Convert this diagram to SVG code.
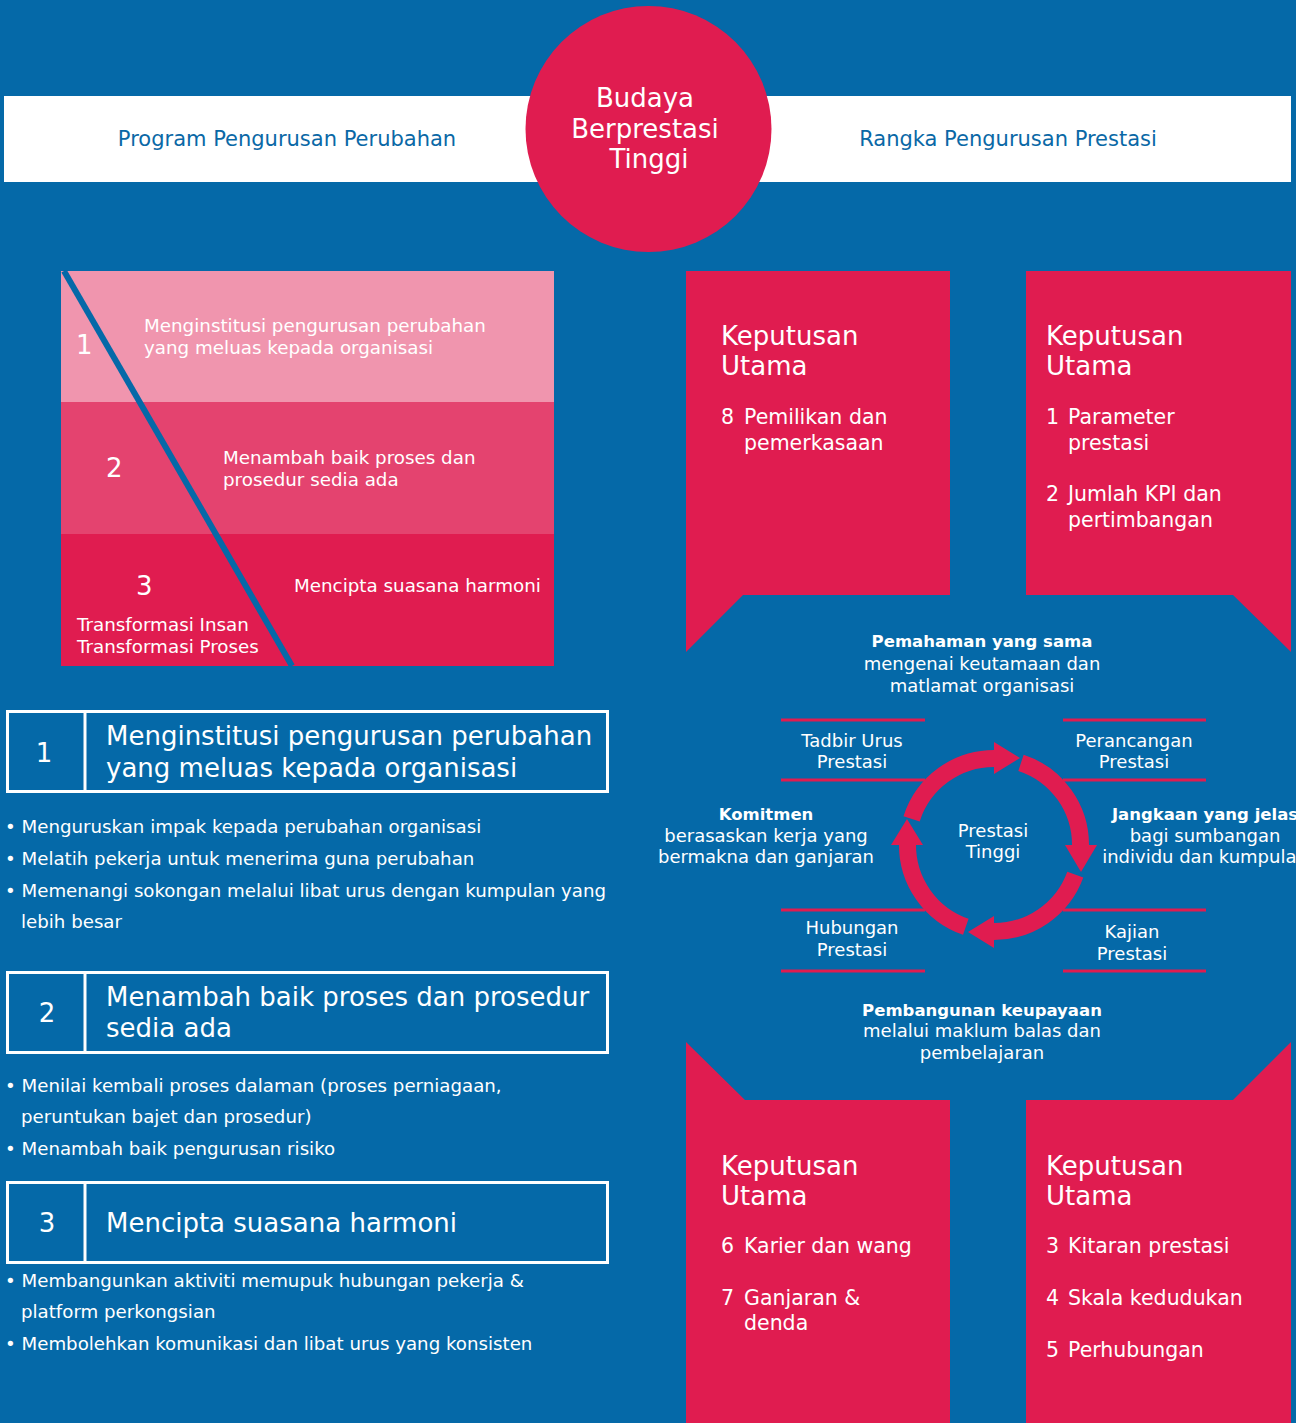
<svg xmlns="http://www.w3.org/2000/svg" width="1296" height="1423" viewBox="0 0 1296 1423">
<style>
text{font-family:"DejaVu Sans","Open Sans",sans-serif;fill:#fff}
.hdr{font-size:21px;fill:#0a68a6;text-anchor:middle}
.ctr{text-anchor:middle}
.t26{font-size:26px}
.t20{font-size:20.5px}
.t18{font-size:18px}
.tri{font-size:18.3px}
.bul{font-size:18.2px}
.b{font-weight:bold;font-size:16.5px}
.red{fill:#e01c50}
.box{fill:none;stroke:#fff;stroke-width:3}
.rule{stroke:#e01c50;stroke-width:3}
.ring{fill:none;stroke:#e01c50;stroke-width:17}
</style>
<rect width="1296" height="1423" fill="#0569a8"/>

<g id="header">
<rect x="4" y="96" width="1287" height="86" fill="#fff"/>
<text class="hdr" x="287" y="146">Program Pengurusan Perubahan</text>
<text class="hdr" x="1008" y="146">Rangka Pengurusan Prestasi</text>
</g>
<g id="culture">
<circle cx="648.5" cy="129" r="123" class="red"/>
<text class="ctr t26" x="645" y="107">Budaya</text>
<text class="ctr t26" x="645" y="138">Berprestasi</text>
<text class="ctr t26" x="649" y="168">Tinggi</text>
</g>

<g id="layers">
<rect x="61" y="271" width="493" height="131" fill="#f095ae"/>
<rect x="61" y="402" width="493" height="132" fill="#e4436f"/>
<rect x="61" y="534" width="493" height="132" fill="#e01c50"/>
<line x1="64" y1="271" x2="292" y2="666" stroke="#0569a8" stroke-width="6"/>
<text x="76" y="354" style="font-size:26px">1</text>
<text class="tri" x="144" y="332">Menginstitusi pengurusan perubahan</text>
<text class="tri" x="144" y="354">yang meluas kepada organisasi</text>
<text x="106" y="477" style="font-size:26px">2</text>
<text class="tri" x="223" y="464">Menambah baik proses dan</text>
<text class="tri" x="223" y="486">prosedur sedia ada</text>
<text x="136" y="595" style="font-size:26px">3</text>
<text class="tri" x="294" y="592">Mencipta suasana harmoni</text>
<text class="tri" x="77" y="631">Transformasi Insan</text>
<text class="tri" x="77" y="653">Transformasi Proses</text>
</g>

<g id="item1">
<rect class="box" x="7.5" y="711.5" width="600" height="80"/>
<line x1="85" y1="711" x2="85" y2="792" stroke="#fff" stroke-width="3"/>
<text class="ctr t26" x="44" y="762">1</text>
<text class="t26" x="106" y="745">Menginstitusi pengurusan perubahan</text>
<text class="t26" x="106" y="777">yang meluas kepada organisasi</text>
<text class="bul" x="5" y="833">• Menguruskan impak kepada perubahan organisasi</text>
<text class="bul" x="5" y="865">• Melatih pekerja untuk menerima guna perubahan</text>
<text class="bul" x="5" y="897">• Memenangi sokongan melalui libat urus dengan kumpulan yang</text>
<text class="bul" x="21" y="928">lebih besar</text>
</g>

<g id="item2">
<rect class="box" x="7.5" y="972.5" width="600" height="80"/>
<line x1="85" y1="972" x2="85" y2="1053" stroke="#fff" stroke-width="3"/>
<text class="ctr t26" x="47" y="1022">2</text>
<text class="t26" x="106" y="1006">Menambah baik proses dan prosedur</text>
<text class="t26" x="106" y="1037">sedia ada</text>
<text class="bul" x="5" y="1092">• Menilai kembali proses dalaman (proses perniagaan,</text>
<text class="bul" x="21" y="1123">peruntukan bajet dan prosedur)</text>
<text class="bul" x="5" y="1155">• Menambah baik pengurusan risiko</text>
</g>

<g id="item3">
<rect class="box" x="7.5" y="1182.5" width="600" height="80"/>
<line x1="85" y1="1182" x2="85" y2="1263" stroke="#fff" stroke-width="3"/>
<text class="ctr t26" x="47" y="1232">3</text>
<text class="t26" x="106" y="1232">Mencipta suasana harmoni</text>
<text class="bul" x="5" y="1287">• Membangunkan aktiviti memupuk hubungan pekerja &amp;</text>
<text class="bul" x="21" y="1318">platform perkongsian</text>
<text class="bul" x="5" y="1350">• Membolehkan komunikasi dan libat urus yang konsisten</text>
</g>

<g id="decision-top-left">
<path class="red" d="M686,271 H950 V595 H743 L686,652 Z"/>
<text class="t26" x="721" y="345">Keputusan</text>
<text class="t26" x="721" y="375">Utama</text>
<text class="t20" x="721" y="424">8</text>
<text class="t20" x="744" y="424">Pemilikan dan</text>
<text class="t20" x="744" y="450">pemerkasaan</text>
</g>
<g id="decision-top-right">
<path class="red" d="M1026,271 H1291 V652 L1233,595 H1026 Z"/>
<text class="t26" x="1046" y="345">Keputusan</text>
<text class="t26" x="1046" y="375">Utama</text>
<text class="t20" x="1046" y="424">1</text>
<text class="t20" x="1068" y="424">Parameter</text>
<text class="t20" x="1068" y="450">prestasi</text>
<text class="t20" x="1046" y="501">2</text>
<text class="t20" x="1068" y="501">Jumlah KPI dan</text>
<text class="t20" x="1068" y="527">pertimbangan</text>
</g>
<g id="decision-bottom-left">
<path class="red" d="M686,1042 L745,1100 H950 V1423 H686 Z"/>
<text class="t26" x="721" y="1175">Keputusan</text>
<text class="t26" x="721" y="1205">Utama</text>
<text class="t20" x="721" y="1253">6</text>
<text class="t20" x="744" y="1253">Karier dan wang</text>
<text class="t20" x="721" y="1305">7</text>
<text class="t20" x="744" y="1305">Ganjaran &amp;</text>
<text class="t20" x="744" y="1330">denda</text>
</g>
<g id="decision-bottom-right">
<path class="red" d="M1026,1100 H1233 L1291,1042 V1423 H1026 Z"/>
<text class="t26" x="1046" y="1175">Keputusan</text>
<text class="t26" x="1046" y="1205">Utama</text>
<text class="t20" x="1046" y="1253">3</text>
<text class="t20" x="1068" y="1253">Kitaran prestasi</text>
<text class="t20" x="1046" y="1305">4</text>
<text class="t20" x="1068" y="1305">Skala kedudukan</text>
<text class="t20" x="1046" y="1357">5</text>
<text class="t20" x="1068" y="1357">Perhubungan</text>
</g>

<g id="understanding">
<text class="ctr b" x="982" y="647">Pemahaman yang sama</text>
<text class="ctr t18" x="982" y="670">mengenai keutamaan dan</text>
<text class="ctr t18" x="982" y="692">matlamat organisasi</text>
</g>
<g id="capability">
<text class="ctr b" x="982" y="1016">Pembangunan keupayaan</text>
<text class="ctr t18" x="982" y="1037">melalui maklum balas dan</text>
<text class="ctr t18" x="982" y="1059">pembelajaran</text>
</g>
<g id="commitment">
<text class="ctr b" x="766" y="820">Komitmen</text>
<text class="ctr t18" x="766" y="842">berasaskan kerja yang</text>
<text class="ctr t18" x="766" y="863">bermakna dan ganjaran</text>
</g>
<g id="expectation">
<text class="ctr b" x="1205" y="820">Jangkaan yang jelas</text>
<text class="ctr t18" x="1205" y="842">bagi sumbangan</text>
<text class="ctr t18" x="1205" y="863">individu dan kumpulan</text>
</g>
<g id="governance">
<line class="rule" x1="781" y1="720" x2="925" y2="720"/>
<line class="rule" x1="781" y1="780" x2="925" y2="780"/>
<text class="ctr t18" x="852" y="747">Tadbir Urus</text>
<text class="ctr t18" x="852" y="768">Prestasi</text>
</g>
<g id="planning">
<line class="rule" x1="1063" y1="720" x2="1206" y2="720"/>
<line class="rule" x1="1063" y1="780" x2="1206" y2="780"/>
<text class="ctr t18" x="1134" y="747">Perancangan</text>
<text class="ctr t18" x="1134" y="768">Prestasi</text>
</g>
<g id="relations">
<line class="rule" x1="781" y1="910" x2="925" y2="910"/>
<line class="rule" x1="781" y1="971" x2="925" y2="971"/>
<text class="ctr t18" x="852" y="934">Hubungan</text>
<text class="ctr t18" x="852" y="956">Prestasi</text>
</g>
<g id="review">
<line class="rule" x1="1063" y1="910" x2="1206" y2="910"/>
<line class="rule" x1="1063" y1="971" x2="1206" y2="971"/>
<text class="ctr t18" x="1132" y="938">Kajian</text>
<text class="ctr t18" x="1132" y="960">Prestasi</text>
</g>
<g id="high-performance">
<text class="ctr t18" x="993" y="837">Prestasi</text>
<text class="ctr t18" x="993" y="858">Tinggi</text>
</g>

<g id="connectors">
<path class="ring" d="M911.6,818.9 A86.5,86.5 0 0 1 995,758.5"/>
<polygon class="red" points="994,742 994,774 1020,758"/>
<path class="ring" d="M1021,762.8 A86.5,86.5 0 0 1 1080.5,846"/>
<polygon class="red" points="1065,845 1097,845 1081,872"/>
<path class="ring" d="M1075.3,874.6 A86.5,86.5 0 0 1 993,931.5"/>
<polygon class="red" points="994,916 994,948 968,932"/>
<path class="ring" d="M965.8,926.8 A86.5,86.5 0 0 1 907.5,844"/>
<polygon class="red" points="891,845 923,845 907,819"/>
</g>
</svg>
